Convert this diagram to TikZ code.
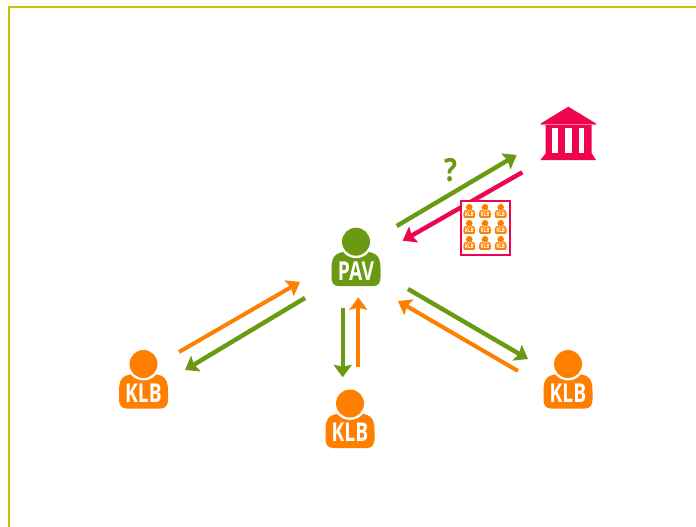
\documentclass[tikz,border=0pt]{standalone}
\usepackage{fontspec}
\setmainfont{Open Sans}
\usetikzlibrary{arrows.meta}
\definecolor{ogreen}{HTML}{6A9A11}
\definecolor{oorange}{HTML}{FF8000}
\definecolor{opink}{HTML}{F0044F}
\definecolor{oframe}{HTML}{C8C000}
\tikzset{
  flow/.style={line width=4.4pt,-{Stealth[width=18pt,length=12.5pt,inset=2pt]}},
  greenflow/.style={flow,draw=ogreen},
  orangeflow/.style={flow,draw=oorange,line width=4pt},
  pinkflow/.style={flow,draw=opink},
  tag/.style={text=white,font=\fontsize{26}{26}\selectfont\bfseries,inner sep=0pt,transform shape,xscale=.74}
}
% name, x, y, scale, colour, label
\newcommand{\personicon}[6]{%
  \begin{scope}[shift={(#2,#3)},scale=#4]
    \fill[#5] (-24.5,36) -- (-24.5,27) .. controls (-24.5,15) and (-21,11.5) .. (-11,10)
      -- (11,10) .. controls (21,11.5) and (24.5,15) .. (24.5,27) -- (24.5,36)
      .. controls (24.5,41) and (22,44.5) .. (17,44.5) -- (-17,44.5)
      .. controls (-22,44.5) and (-24.5,41) .. (-24.5,36) -- cycle;
    \fill[white] (0,0) circle (16.4);
    \fill[#5] (0,0) circle (14);
    \node[tag] (#1) at (0,29) {#6};
  \end{scope}}
\begin{document}
\begin{tikzpicture}[x=1pt,y=-1pt]
\useasboundingbox[fill=white] (0,0) rectangle (696,527);
% frame
\coordinate (fa) at (9,527);
\coordinate (fb) at (9,7);
\coordinate (fc) at (696,7);
\draw[oframe,line width=2pt] (fa) -- (fb) -- (fc);
% people
\personicon{pav}{356}{241.7}{1}{ogreen}{PAV}
\personicon{klbl}{143.5}{364}{1}{oorange}{KLB}
\personicon{klbm}{350}{403.5}{1}{oorange}{KLB}
\personicon{klbr}{568}{364}{1}{oorange}{KLB}
% bank
\fill[opink] (568.3,106.7) -- (596,123.5) -- (596,125) -- (591.7,125) -- (591.7,153.3) -- (596,160) -- (540.5,160) -- (545.7,153.3) -- (545.7,125) -- (540.7,125) -- (540.7,123.5) -- cycle;
\fill[white] (552,128) rectangle (557.5,153);
\fill[white] (564.8,128) rectangle (572.3,153);
\fill[white] (579,128) rectangle (584.3,153);
\fill[white,opacity=.5] (540,124.4) rectangle (597,125.2);
% coordinates of the flows
\coordinate (a1) at (396.7,226);   \coordinate (a2) at (516.7,155);
\coordinate (b1) at (522.3,172.3); \coordinate (b2) at (402.7,240.7);
\coordinate (c1) at (342.7,307.7); \coordinate (c2) at (342.7,377.3);
\coordinate (d1) at (358.3,366.7); \coordinate (d2) at (358.3,297.3);
\coordinate (e1) at (179,352);     \coordinate (e2) at (300,282);
\coordinate (f1) at (305,298);     \coordinate (f2) at (185,370);
\coordinate (g1) at (408,289);     \coordinate (g2) at (528,359);
\coordinate (h1) at (518,371);     \coordinate (h2) at (398,301);
\draw[pinkflow] (b1) -- (b2);
\draw[greenflow] (a1) -- (a2);
\draw[greenflow] (c1) -- (c2);
\draw[orangeflow] (d1) -- (d2);
\draw[orangeflow] (e1) -- (e2);
\draw[greenflow] (f1) -- (f2);
\draw[greenflow] (g1) -- (g2);
\draw[orangeflow] (h1) -- (h2);
% list
\node[draw=opink,fill=white,line width=2pt,minimum width=49pt,minimum height=54pt,inner sep=0pt] (list) at (485,227.5) {};
\foreach \r/\yy in {1/207.3,2/223.3,3/239.3}{
  \foreach \c/\xx in {1/469.3,2/485,3/500.7}{
    \personicon{k\r\c}{\xx}{\yy}{.24}{oorange}{KLB}
  }
}
\node[text=ogreen,font=\fontsize{32}{32}\selectfont\bfseries,inner sep=0pt,xscale=.85] (q) at (450.5,170.5) {?};
\end{tikzpicture}
\end{document}
